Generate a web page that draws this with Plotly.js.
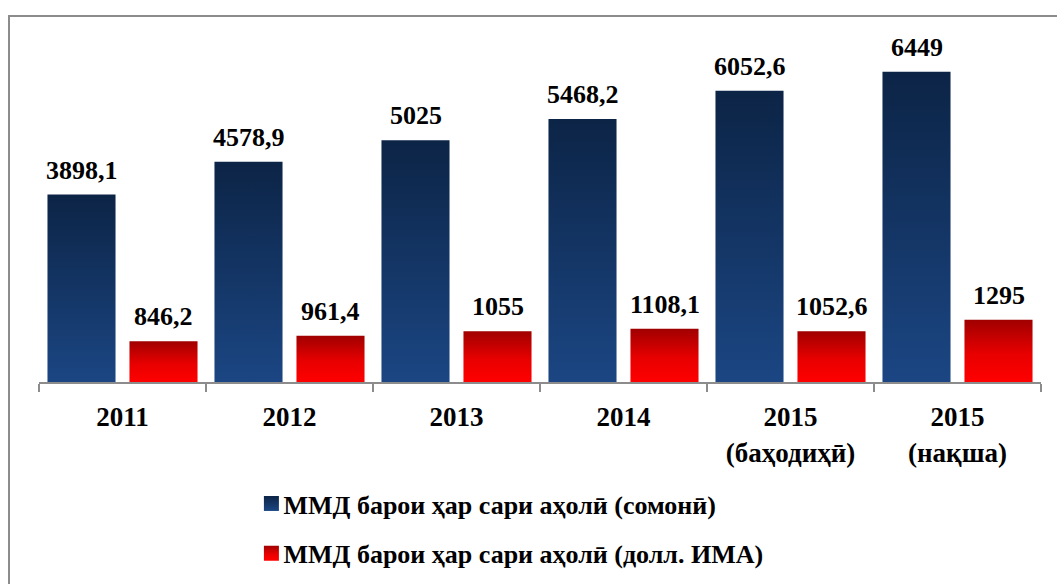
<!DOCTYPE html>
<html>
<head>
<meta charset="utf-8">
<script src="https://cdn.plot.ly/plotly-3.0.1.min.js"></script>
<style>
html,body{margin:0;padding:0;overflow:hidden;background:#fff;}
#wrap{position:relative;width:1057px;height:584px;}
#chart{position:absolute;left:0;top:0;width:1057px;height:584px;}
#frame{position:absolute;left:8px;top:15px;width:1200px;height:800px;border:2px solid #8c8c8c;pointer-events:none;}
</style>
</head>
<body>
<div id="wrap"><div id="chart"></div><div id="frame"></div></div>
<script>
const categories = ['2011', '2012', '2013', '2014', '2015<br>(баҳодиҳӣ)', '2015<br>(нақша)'];
const seriesNames = ['ММД барои ҳар сари аҳолӣ (сомонӣ)', 'ММД барои ҳар сари аҳолӣ (долл. ИМА)'];
const somoni = [3898.1, 4578.9, 5025, 5468.2, 6052.6, 6449];
const usd = [846.2, 961.4, 1055, 1108.1, 1052.6, 1295];

const FONT = '"Liberation Serif", "Times New Roman", serif';
const fmt = v => String(v).replace('.', ',');

const traces = [
  {type: 'bar', name: seriesNames[0], x: categories, y: somoni, legendgroup: 'a',
   marker: {color: '#14396a'}, hoverinfo: 'none'},
  {type: 'bar', name: seriesNames[1], x: categories, y: usd, legendgroup: 'b',
   marker: {color: '#e00000'}, hoverinfo: 'none'}
];

const annotations = [];
[somoni, usd].forEach((arr, s) => {
  arr.forEach((v, i) => {
    annotations.push({
      x: i, y: v, xref: 'x', yref: 'y',
      text: fmt(v), showarrow: false,
      xshift: s === 0 ? -41 : 41, yshift: 8, yanchor: 'bottom',
      font: {family: FONT, size: 26, color: '#000', weight: 'bold'}
    });
  });
});

const layout = {
  width: 1057, height: 584,
  font: {family: FONT, color: '#000'},
  margin: {l: 39, r: 16, t: 30, b: 202},
  paper_bgcolor: 'rgba(0,0,0,0)', plot_bgcolor: 'rgba(0,0,0,0)',
  barmode: 'group', bargap: 0.018, bargroupgap: 0.17,
  showlegend: true,
  legend: {x: 0.204, xanchor: 'left', yref: 'container', y: 0.178, yanchor: 'top',
           font: {family: FONT, size: 26, color: '#000', weight: 'bold'},
           tracegroupgap: 13},
  xaxis: {type: 'category', tickson: 'boundaries', ticks: 'outside', ticklen: 8,
          tickcolor: '#8c8c8c', tickwidth: 1.5, tickangle: 0, automargin: false,
          ticklabelstandoff: 10,
          showline: true, linecolor: '#8c8c8c', linewidth: 2,
          range: [-0.5, 5.5], autorange: false,
          tickfont: {family: FONT, size: 27, color: '#000', weight: 'bold'},
          showgrid: false, zeroline: false},
  yaxis: {range: [0, 7318], visible: false, showgrid: false, zeroline: false},
  annotations: annotations
};

Plotly.newPlot('chart', traces, layout, {displayModeBar: false, staticPlot: true}).then(gd => {
  const svg = gd.querySelector('.main-svg');
  const ns = 'http://www.w3.org/2000/svg';
  let defs = svg.querySelector('defs');
  if (!defs) { defs = document.createElementNS(ns, 'defs'); svg.insertBefore(defs, svg.firstChild); }
  const mk = (id, stops) => {
    const g = document.createElementNS(ns, 'linearGradient');
    g.setAttribute('id', id);
    g.setAttribute('x1', '0'); g.setAttribute('y1', '0');
    g.setAttribute('x2', '0'); g.setAttribute('y2', '1');
    stops.forEach(([o, c]) => {
      const st = document.createElementNS(ns, 'stop');
      st.setAttribute('offset', o); st.setAttribute('stop-color', c);
      g.appendChild(st);
    });
    defs.appendChild(g);
  };
  mk('gBlue', [['0', '#0c2446'], ['1', '#1b4683']]);
  mk('gRed', [['0', '#a00000'], ['0.55', '#e80000'], ['1', '#ff0000']]);
  const ids = ['gBlue', 'gRed'];
  gd.querySelectorAll('.barlayer .trace').forEach((t, k) => {
    t.querySelectorAll('path').forEach(p => { p.style.fill = 'url(#' + ids[k] + ')'; });
  });
  gd.querySelectorAll('.legend .traces').forEach((t, k) => {
    t.querySelectorAll('.legendpoints path').forEach(p => {
      p.setAttribute('d', 'M15.5,7.5H0.5V-7.5H15.5Z');
      p.style.fill = 'url(#' + ids[k] + ')';
    });
  });
});
</script>
</body>
</html>
